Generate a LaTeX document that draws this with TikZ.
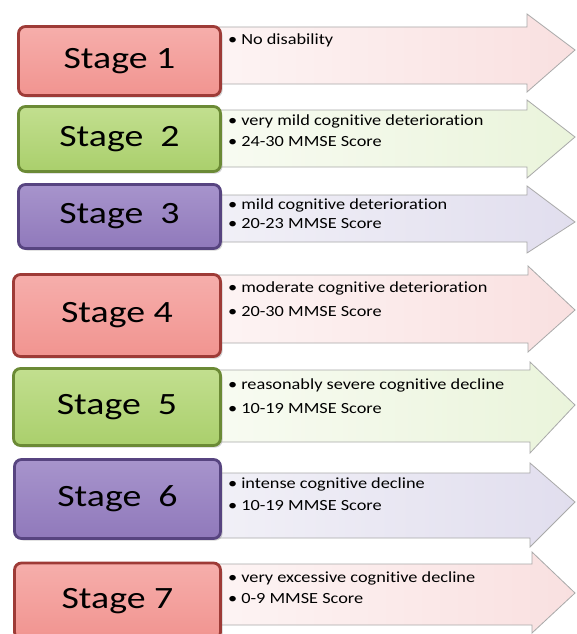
\documentclass[tikz,border=0pt]{standalone}
\usepackage{fontspec}
\setmainfont{Carlito}
\newfontfamily\stagefont[FakeStretch=1.22, Ligatures={NoCommon,NoContextual}]{Carlito}
\newfontfamily\bodyfont[FakeStretch=1.18, Ligatures={NoCommon,NoContextual}]{Carlito}
\usetikzlibrary{shadows}
\definecolor{redfill}{HTML}{F19490}
\definecolor{redtop}{HTML}{F6AEAB}
\definecolor{redline}{HTML}{9E3B37}
\definecolor{greenfill}{HTML}{AACF6C}
\definecolor{greentop}{HTML}{C2DF8F}
\definecolor{greenline}{HTML}{6B8A35}
\definecolor{purplefill}{HTML}{9079BB}
\definecolor{purpletop}{HTML}{A794CC}
\definecolor{purpleline}{HTML}{574480}
\definecolor{redarrowL}{HTML}{FDF4F4}
\definecolor{redarrowR}{HTML}{F9E0E0}
\definecolor{greenarrowL}{HTML}{F8FBF2}
\definecolor{greenarrowR}{HTML}{EAF4DB}
\definecolor{purplearrowL}{HTML}{F1F0F7}
\definecolor{purplearrowR}{HTML}{E1DEEE}
\definecolor{arrowline}{HTML}{A9A9A9}
\tikzset{
  stagebox/.style={rounded corners=7pt, line width=2.8pt, inner sep=0pt,
    font=\stagefont\fontsize{31}{36}\selectfont, text=black,
    drop shadow={shadow xshift=2pt, shadow yshift=-2pt, opacity=0.35}},
  redbox/.style={stagebox, draw=redline, top color=redtop, bottom color=redfill},
  greenbox/.style={stagebox, draw=greenline, top color=greentop, bottom color=greenfill},
  purplebox/.style={stagebox, draw=purpleline, top color=purpletop, bottom color=purplefill},
  arrowshape/.style={draw=arrowline, line width=0.8pt, line join=miter},
  redarrow/.style={arrowshape, left color=redarrowL, right color=redarrowR},
  greenarrow/.style={arrowshape, left color=greenarrowL, right color=greenarrowR},
  purplearrow/.style={arrowshape, left color=purplearrowL, right color=purplearrowR},
  bodytext/.style={anchor=base west, inner sep=0pt, font=\bodyfont\fontsize{15.5}{21}\selectfont, text=black}
}
\newcommand\stagearrow[8]{%
  \path[#8] (214,#1) -- (#6,#1) -- (#6,#3) -- (#7,#5) -- (#6,#4) -- (#6,#2) -- (214,#2) -- cycle;}
\begin{document}
\begin{tikzpicture}[x=1pt,y=-1pt]
\useasboundingbox (0,0) rectangle (576,634);
\clip (0,0) rectangle (576,634);
\fill[white] (0,0) rectangle (576,634);
% arrows
\stagearrow{27}{84}{14}{92}{50}{527}{575}{redarrow}
\stagearrow{110}{167}{100}{178}{137}{527}{575}{greenarrow}
\stagearrow{195}{242}{186}{253}{222}{527}{575}{purplearrow}
\stagearrow{275}{343}{266}{352}{310}{528}{575}{redarrow}
\stagearrow{370}{442}{362}{453}{405}{530}{575}{greenarrow}
\stagearrow{473}{538}{463}{547}{502}{530}{575}{purplearrow}
\stagearrow{564}{625}{552}{633}{593}{532}{575}{redarrow}
% stage boxes
\node[redbox, minimum width=202pt, minimum height=69pt] (s1) at (119.5,61) {Stage 1};
\node[greenbox, minimum width=202pt, minimum height=65pt] (s2) at (119.5,139) {Stage\ \ 2};
\node[purplebox, minimum width=202pt, minimum height=64pt] (s3) at (119.5,216.5) {Stage\ \ 3};
\node[redbox, minimum width=207pt, minimum height=82pt] (s4) at (117,315.5) {Stage 4};
\node[greenbox, minimum width=207pt, minimum height=77pt] (s5) at (117,407) {Stage\ \ 5};
\node[purplebox, minimum width=206pt, minimum height=79pt] (s6) at (117.5,499) {Stage\ \ 6};
\node[redbox, minimum width=206pt, minimum height=76pt] (s7) at (117.5,601) {Stage 7};
% texts
\node[bodytext] (t1a) at (228,45) {\textbullet\hspace{4pt}No disability};
\node[bodytext] (t2a) at (228,125) {\textbullet\hspace{4pt}very mild cognitive deterioration};
\node[bodytext] (t2b) at (228,146) {\textbullet\hspace{4pt}24-30 MMSE Score};
\node[bodytext] (t3a) at (228,209) {\textbullet\hspace{4pt}mild cognitive deterioration};
\node[bodytext] (t3b) at (228,228) {\textbullet\hspace{4pt}20-23 MMSE Score};
\node[bodytext] (t4a) at (228,292) {\textbullet\hspace{4pt}moderate cognitive deterioration};
\node[bodytext] (t4b) at (228,316) {\textbullet\hspace{4pt}20-30 MMSE Score};
\node[bodytext] (t5a) at (228,389) {\textbullet\hspace{4pt}reasonably severe cognitive decline};
\node[bodytext] (t5b) at (228,413) {\textbullet\hspace{4pt}10-19 MMSE Score};
\node[bodytext] (t6a) at (228,488) {\textbullet\hspace{4pt}intense cognitive decline};
\node[bodytext] (t6b) at (228,510) {\textbullet\hspace{4pt}10-19 MMSE Score};
\node[bodytext] (t7a) at (228,582) {\textbullet\hspace{4pt}very excessive cognitive decline};
\node[bodytext] (t7b) at (228,603) {\textbullet\hspace{4pt}0-9 MMSE Score};
\end{tikzpicture}
\end{document}
